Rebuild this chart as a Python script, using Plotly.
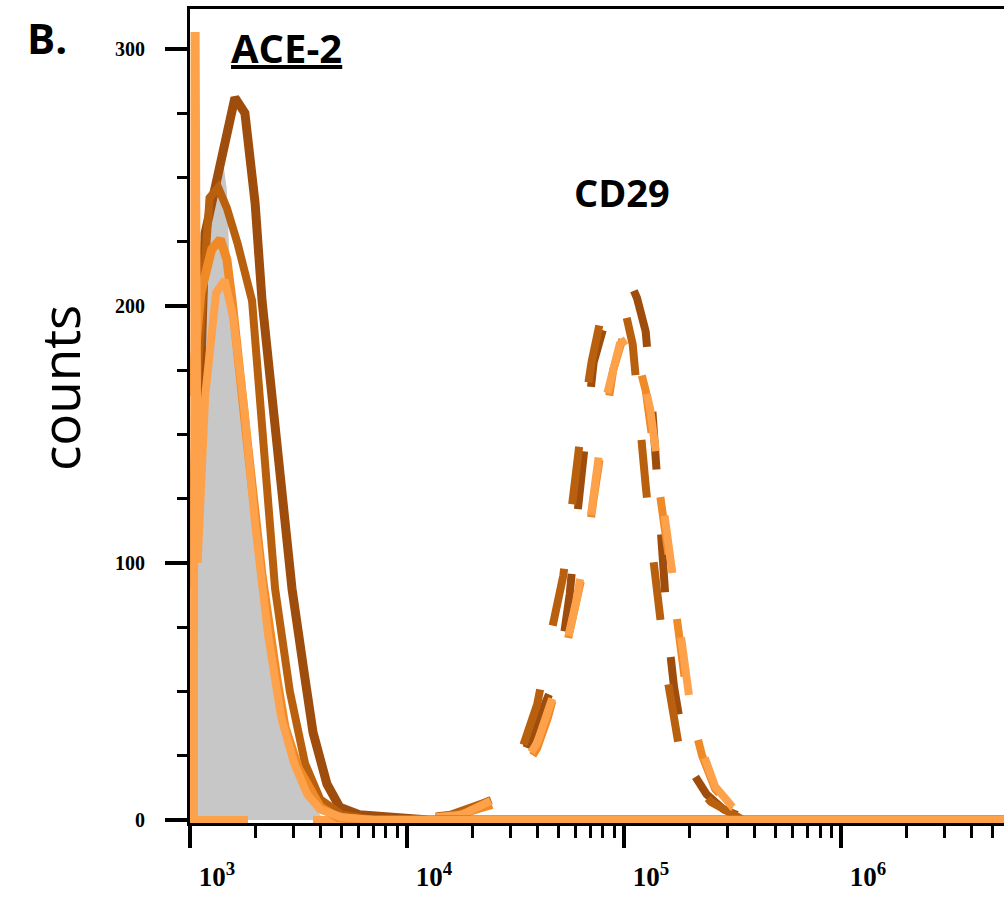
import numpy as np
import plotly.graph_objects as go

# ---- data (x = log10 fluorescence intensity, y = counts) ----
iso_log = [3.005, 3.04, 3.08, 3.12, 3.15, 3.17, 3.19, 3.25, 3.32, 3.39, 3.43, 3.49, 3.54, 3.59, 3.62]
iso_counts = [120, 190, 235, 252, 258, 245, 200, 150, 95, 55, 34, 18, 10, 3, 0]

ace2_dark_log = [3.005, 3.037, 3.069, 3.207, 3.253, 3.30, 3.332, 3.40, 3.47, 3.53, 3.567, 3.631, 3.69, 3.78, 3.90, 4.10, 6.76]
ace2_dark_counts = [90, 140, 228, 281, 275, 240, 202, 145, 90, 55, 34, 14, 5, 2, 1, 0, 0]

ace2_brown_log = [3.005, 3.04, 3.09, 3.13, 3.17, 3.22, 3.286, 3.392, 3.46, 3.53, 3.60, 3.70, 3.85, 6.76]
ace2_brown_counts = [110, 180, 242, 246, 238, 224, 202, 90, 50, 22, 8, 2, 0, 0]

ace2_orange_log = [3.005, 3.05, 3.10, 3.14, 3.17, 3.194, 3.26, 3.332, 3.40, 3.438, 3.50, 3.553, 3.60, 3.68, 3.80, 6.76]
ace2_orange_counts = [165, 205, 222, 226, 218, 202, 150, 95, 55, 36, 20, 12, 5, 1, 0, 0]

ace2_light_log = [3.0, 3.018, 3.021, 3.026, 3.035, 3.07, 3.12, 3.16, 3.20, 3.25, 3.30, 3.36, 3.42, 3.48, 3.54, 3.60, 3.70, 3.85, 6.76]
ace2_light_counts = [0, 0, 305, 305, 100, 165, 205, 210, 195, 160, 115, 72, 40, 22, 10, 4, 1, 0, 0]

cd29_dark_log = [3.0, 4.0, 4.17, 4.30, 4.415, 4.50, 4.56, 4.62, 4.67, 4.72, 4.75, 4.78, 4.82, 4.86, 4.92, 4.96, 5.00, 5.03,
                 5.06, 5.10, 5.13, 5.155, 5.18, 5.20, 5.23, 5.27, 5.32, 5.38, 5.46, 5.58, 6.76]
cd29_dark_counts = [0, 0, 1, 4, 9, 18, 30, 42, 52, 70, 88, 115, 145, 178, 196, 203, 207, 209,
                    203, 190, 160, 125, 100, 75, 52, 32, 18, 10, 4, 0, 0]

cd29_brown_log = [3.0, 4.0, 4.2, 4.4, 4.52, 4.60, 4.67, 4.72, 4.76, 4.80, 4.85, 4.90, 4.95, 5.00, 5.04, 5.07, 5.10,
                  5.13, 5.16, 5.20, 5.25, 5.32, 5.40, 5.55, 6.76]
cd29_brown_counts = [0, 0, 2, 8, 25, 45, 75, 95, 122, 150, 178, 198, 205, 200, 185, 155, 130,
                     105, 82, 55, 30, 15, 7, 0, 0]

cd29_orange_log = [3.0, 4.0, 4.2, 4.4, 4.5, 4.6, 4.65, 4.72, 4.78, 4.82, 4.86, 4.90, 4.95, 5.01, 5.06, 5.10, 5.14,
                   5.18, 5.21, 5.24, 5.28, 5.32, 5.36, 5.42, 5.50, 5.60, 5.65, 6.76]
cd29_orange_counts = [0, 0, 1, 6, 14, 28, 40, 62, 85, 100, 125, 148, 175, 192, 180, 167, 145,
                      118, 100, 80, 55, 38, 25, 12, 5, 1, 0, 0]

cd29_light_log = [3.0, 4.0, 4.25, 4.45, 4.6, 4.7, 4.78, 4.85, 4.92, 4.98, 5.03, 5.08, 5.12, 5.16, 5.20, 5.25,
                  5.30, 5.36, 5.42, 5.50, 5.62, 6.76]
cd29_light_counts = [0, 0, 2, 10, 30, 55, 85, 120, 165, 185, 188, 175, 160, 135, 108, 75,
                     48, 27, 13, 5, 0, 0]

x_tick_vals = [1e3, 1e4, 1e5, 1e6]
x_tick_text = ["10<sup>3</sup>", "10<sup>4</sup>", "10<sup>5</sup>", "10<sup>6</sup>"]
x_minor_vals = [m * 10 ** e for e in [3, 4, 5, 6] for m in range(2, 10)]
y_tick_vals = [0, 100, 200, 300]
y_tick_text = ["0", "100", "200", "300"]

C_DARK = "#9E4D0C"
C_BROWN = "#B9600F"
C_ORANGE = "#F08A26"
C_LIGHT = "#FDA24A"
C_GRAY = "#C7C7C7"

fig = go.Figure()

fig.add_trace(go.Scatter(x=10 ** np.array(iso_log), y=iso_counts, mode="lines",
                         fill="tozeroy", fillcolor=C_GRAY, line=dict(width=0, color=C_GRAY)))

dash = "58px,65px"
for lg, ct, col, w in [(cd29_dark_log, cd29_dark_counts, C_DARK, 8),
                       (cd29_brown_log, cd29_brown_counts, C_BROWN, 8),
                       (cd29_orange_log, cd29_orange_counts, C_ORANGE, 8),
                       (cd29_light_log, cd29_light_counts, C_LIGHT, 8)]:
    fig.add_trace(go.Scatter(x=10 ** np.array(lg), y=ct, mode="lines",
                             line=dict(color=col, width=w, dash=dash)))

for lg, ct, col, w in [(ace2_dark_log, ace2_dark_counts, C_DARK, 9),
                       (ace2_brown_log, ace2_brown_counts, C_BROWN, 8),
                       (ace2_orange_log, ace2_orange_counts, C_ORANGE, 9),
                       (ace2_light_log, ace2_light_counts, C_LIGHT, 8)]:
    fig.add_trace(go.Scatter(x=10 ** np.array(lg), y=ct, mode="lines",
                             line=dict(color=col, width=w)))

fig.update_layout(
    width=1004, height=899,
    margin=dict(l=190, r=0, t=9, b=76, autoexpand=False),
    paper_bgcolor="white", plot_bgcolor="white",
    showlegend=False,
)

fig.update_xaxes(
    type="log", range=[3, 6.751], automargin=False,
    showline=True, linewidth=3, linecolor="black", mirror=True,
    showgrid=False, zeroline=False,
    tickmode="array", tickvals=x_tick_vals, ticktext=x_tick_text,
    ticks="outside", ticklen=22, tickwidth=4, tickcolor="black",
    ticklabelshift=27, ticklabelstandoff=6,
    tickfont=dict(family="Liberation Serif", size=27, color="black", weight="bold"),
    minor=dict(tickmode="array", tickvals=x_minor_vals, ticks="outside",
               ticklen=12, tickwidth=3, tickcolor="black", showgrid=False),
)

fig.update_yaxes(
    range=[-1.2, 315.5], automargin=False,
    showline=True, linewidth=3, linecolor="black",
    showgrid=False, zeroline=False,
    tickmode="array", tickvals=y_tick_vals, ticktext=y_tick_text,
    ticks="outside", ticklen=22, tickwidth=4, tickcolor="black",
    ticklabelstandoff=16,
    tickfont=dict(family="Liberation Serif", size=20, color="black", weight="bold"),
    minor=dict(dtick=25, tick0=0, ticks="outside", ticklen=10, tickwidth=3,
               tickcolor="black", showgrid=False),
)

fig.add_annotation(text="B.", xref="paper", yref="paper", x=-0.176, y=0.965,
                   showarrow=False, xanchor="center", yanchor="middle",
                   font=dict(family="Open Sans", size=42, color="black", weight="bold"))
fig.add_annotation(text="<u>ACE-2</u>", xref="paper", yref="paper", x=0.119, y=0.953,
                   showarrow=False, xanchor="center", yanchor="middle",
                   font=dict(family="Open Sans", size=40, color="black", weight="bold"))
fig.add_annotation(text="CD29", xref="paper", yref="paper", x=0.531, y=0.775,
                   showarrow=False, xanchor="center", yanchor="middle",
                   font=dict(family="Open Sans", size=38, color="black", weight="bold"))
fig.add_annotation(text="counts", xref="paper", yref="paper", x=-0.160, y=0.534,
                   showarrow=False, xanchor="center", yanchor="middle", textangle=-90,
                   font=dict(family="Open Sans", size=53, color="black"))

fig.write_html("out.html", config={"displayModeBar": False},
               post_script="document.body.style.margin='0';document.body.style.overflow='hidden';")
